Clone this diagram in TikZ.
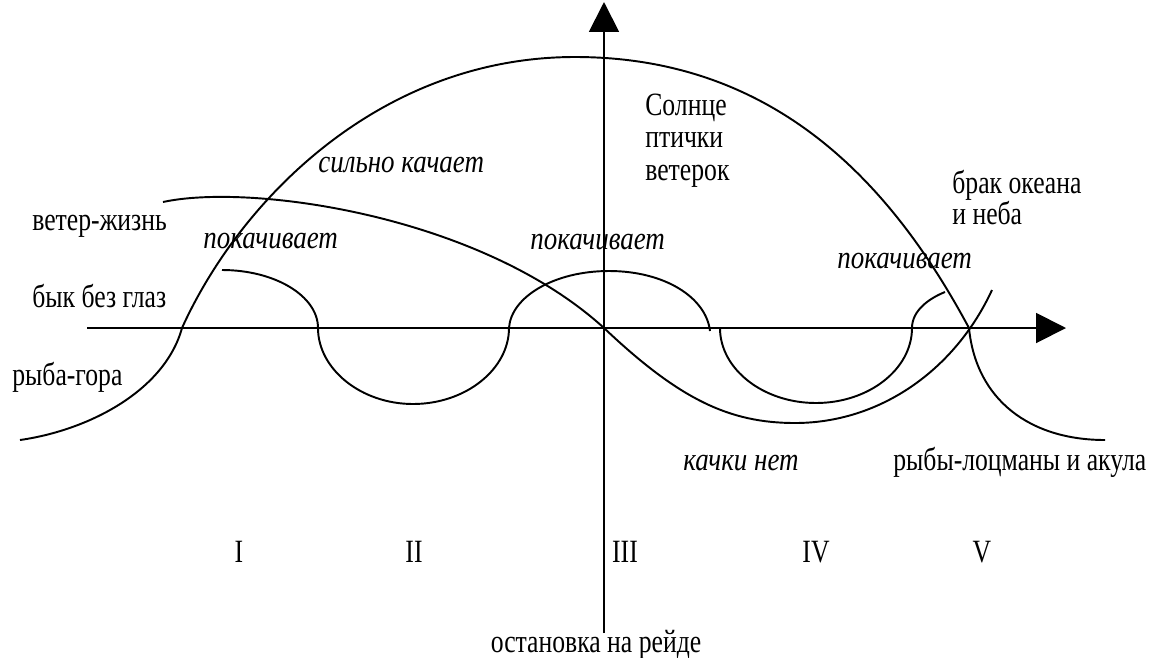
\documentclass[tikz,border=0pt]{standalone}
\usepackage{fontspec}
\setmainfont{Liberation Serif}[FakeStretch=0.79,ItalicFeatures={FakeStretch=0.83}]
\usepackage{tikz}
\usetikzlibrary{arrows.meta}

\begin{document}
\begin{tikzpicture}[x=0.02cm,y=-0.02cm,
  curve/.style={line width=1.1pt},
  axisline/.style={line width=1.1pt,-{Triangle[length=17pt,width=17pt]}},
  lbl/.style={inner sep=0pt,anchor=base west,font=\fontsize{18.5}{22}\selectfont},
  rocking/.style={lbl,font=\fontsize{18.5}{22}\selectfont\itshape},
  zone/.style={inner sep=0pt,anchor=base,font=\fontsize{18.5}{22}\selectfont}]
  \useasboundingbox (0,0) rectangle (1161,657);

  % axes
  \coordinate (xstart) at (87,328);
  \coordinate (xend) at (1066,328);
  \coordinate (ystart) at (604,633);
  \coordinate (yend) at (604,2);
  \draw[axisline] (xstart) -- (xend);
  \draw[axisline] (ystart) -- (yend);

  % big arch
  \draw[curve] (20,440) .. controls (90,430) and (165,390) .. (182,328)
    .. controls (240,200) and (380,57) .. (575,57)
    .. controls (780,57) and (895,190) .. (969,328)
    .. controls (976,400) and (1030,440) .. (1105,440);

  % long wave
  \draw[curve] (163,202) .. controls (250,183) and (480,215) .. (604,328)
    .. controls (680,400) and (730,423) .. (795,423)
    .. controls (880,423) and (955,370) .. (992,290);

  % small wave
  \draw[curve] (222,270) .. controls (275,270) and (318,296) .. (318,328)
    .. controls (318,369) and (361,404) .. (413,404)
    .. controls (466,404) and (509,369) .. (509,328)
    .. controls (511,297) and (554,271) .. (609,271)
    .. controls (664,271) and (706,297) .. (710,331);
  \draw[curve] (720,328) .. controls (720,369) and (763,403) .. (816,403)
    .. controls (869,403) and (912,369) .. (912,328)
    .. controls (912,310) and (930,298) .. (945,292);

  % labels
  \node[lbl] (sun) at (645,115) {Солнце};
  \node[lbl] (birds) at (645,147) {птички};
  \node[lbl] (breeze) at (645,180) {ветерок};
  \node[rocking] (strong) at (318,172) {сильно качает};
  \node[lbl] (windlife) at (32,230) {ветер-жизнь};
  \node[rocking] (rockA) at (203,248) {покачивает};
  \node[rocking] (rockB) at (530,249) {покачивает};
  \node[rocking] (rockC) at (837,268) {покачивает};
  \node[lbl] (marriage) at (952,193) {брак океана};
  \node[lbl] (sky) at (952,224) {и неба};
  \node[lbl] (bull) at (32,307) {бык без глаз};
  \node[lbl] (fishmount) at (12,385) {рыба-гора};
  \node[rocking] (calm) at (683,470) {качки нет};
  \node[lbl] (pilots) at (893,470) {рыбы-лоцманы и акула};
  \node[lbl,anchor=base] (stop) at (596,652) {остановка на рейде};

  \foreach \x/\n in {239/I,414/II,625/III,816/IV,982/V}
    \node[zone] (zone\n) at (\x,562) {\n};
\end{tikzpicture}
\end{document}
